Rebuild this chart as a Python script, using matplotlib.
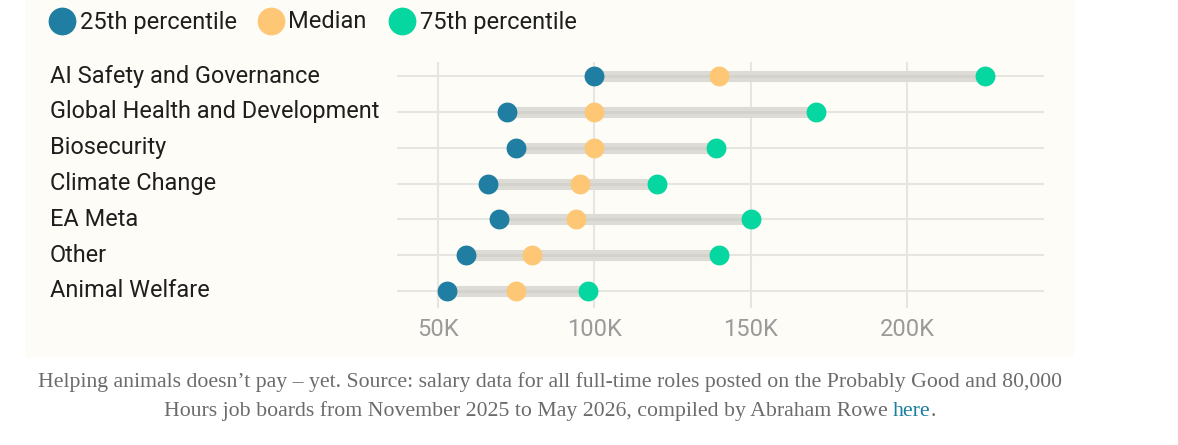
import matplotlib
matplotlib.use("Agg")
import matplotlib.pyplot as plt
from matplotlib.patches import Rectangle
from matplotlib.ticker import FuncFormatter

categories = ["AI Safety and Governance", "Global Health and Development", "Biosecurity",
              "Climate Change", "EA Meta", "Other", "Animal Welfare"]
p25 = [100000, 72000, 75000, 66000, 69500, 59000, 53000]
median = [140000, 100000, 100000, 95500, 94000, 80000, 75000]
p75 = [225000, 171000, 139000, 120000, 150000, 140000, 98000]
xticks = [50000, 100000, 150000, 200000]
series_names = ["25th percentile", "Median", "75th percentile"]

C_BLUE = "#1f7ea1"
C_ORANGE = "#fdc776"
C_GREEN = "#06d6a0"

W, H = 1178, 445
fig = plt.figure(figsize=(W / 100, H / 100), dpi=100, facecolor="white")

# panel background
bg = fig.add_axes([0, 0, 1, 1], zorder=-10)
bg.set_xlim(0, W); bg.set_ylim(H, 0); bg.axis("off")
bg.add_patch(Rectangle((25, 0), 1049, 357, facecolor="#fdfcf6", edgecolor="none"))

# main axes
ax = fig.add_axes([397 / W, 1 - 308 / H, 647 / W, 246 / H])
ax.set_facecolor("none")
for s in ax.spines.values():
    s.set_visible(False)
ax.set_xlim(36900, 243800)
ax.set_ylim(6.47, -0.39)
ypos = list(range(len(categories)))

for x in xticks:
    ax.axvline(x, color="#e6e5e1", lw=1.5, zorder=0)
for y in ypos:
    ax.axhline(y, color="#e6e5e1", lw=1.5, zorder=0)

ax.hlines(ypos, p25, p75, color="#dcdbd6", lw=8, zorder=1, capstyle="butt")
ax.hlines(ypos, p25, p75, color="#d3d2cd", lw=2, zorder=1, capstyle="butt")
ms = 14.3
ax.plot(p25, ypos, "o", color=C_BLUE, ms=ms, mec="none", zorder=3)
ax.plot(median, ypos, "o", color=C_ORANGE, ms=ms, mec="none", zorder=3)
ax.plot(p75, ypos, "o", color=C_GREEN, ms=ms, mec="none", zorder=3)

ax.set_xticks(xticks)
ax.xaxis.set_major_formatter(FuncFormatter(lambda v, p: f"{int(v / 1000)}K"))
ax.tick_params(axis="x", length=0, pad=7, labelsize=17, labelcolor="#9a9a9a")
for lbl in ax.get_xticklabels():
    lbl.set_fontfamily("Roboto")
ax.set_yticks([])

# category labels
for y, c in zip(ypos, categories):
    bg.text(50, 76 + y * 35.83, c, fontsize=16.9, family="Roboto", color="#1e1e1e",
            ha="left", va="center")

# legend
leg_items = [(62, series_names[0], C_BLUE), (270.5, series_names[1], C_ORANGE),
             (402, series_names[2], C_GREEN)]
for x, name, col in leg_items:
    bg.plot([x], [21], "o", color=col, ms=20, mec="none")
    bg.text(x + 18, 22, name, fontsize=17, family="Roboto", color="#1e1e1e",
            ha="left", va="center")

# caption
cap_kw = dict(fontsize=15.7, family="Liberation Serif", color="#6b6b6b", va="center")
bg.text(550, 382, "Helping animals doesn\u2019t pay \u2013 yet. Source: salary data for all full-time roles posted on the Probably Good and 80,000",
        ha="center", **cap_kw)
fig.canvas.draw()
r = fig.canvas.get_renderer()
parts = [("Hours job boards from November 2025 to May 2026, compiled by Abraham Rowe ", "#6b6b6b"),
         ("here", "#1a7fa0"), (".", "#6b6b6b")]
texts = []
widths = []
for s, col in parts:
    kw = dict(cap_kw); kw["color"] = col
    t = bg.text(0, 411, s, ha="left", **kw)
    texts.append(t)
    widths.append(t.get_window_extent(renderer=r).width)
total = sum(widths)
x0 = 550 - total / 2
for t, w in zip(texts, widths):
    t.set_x(x0)
    x0 += w

fig.savefig("out.png", dpi=100, facecolor="white")
